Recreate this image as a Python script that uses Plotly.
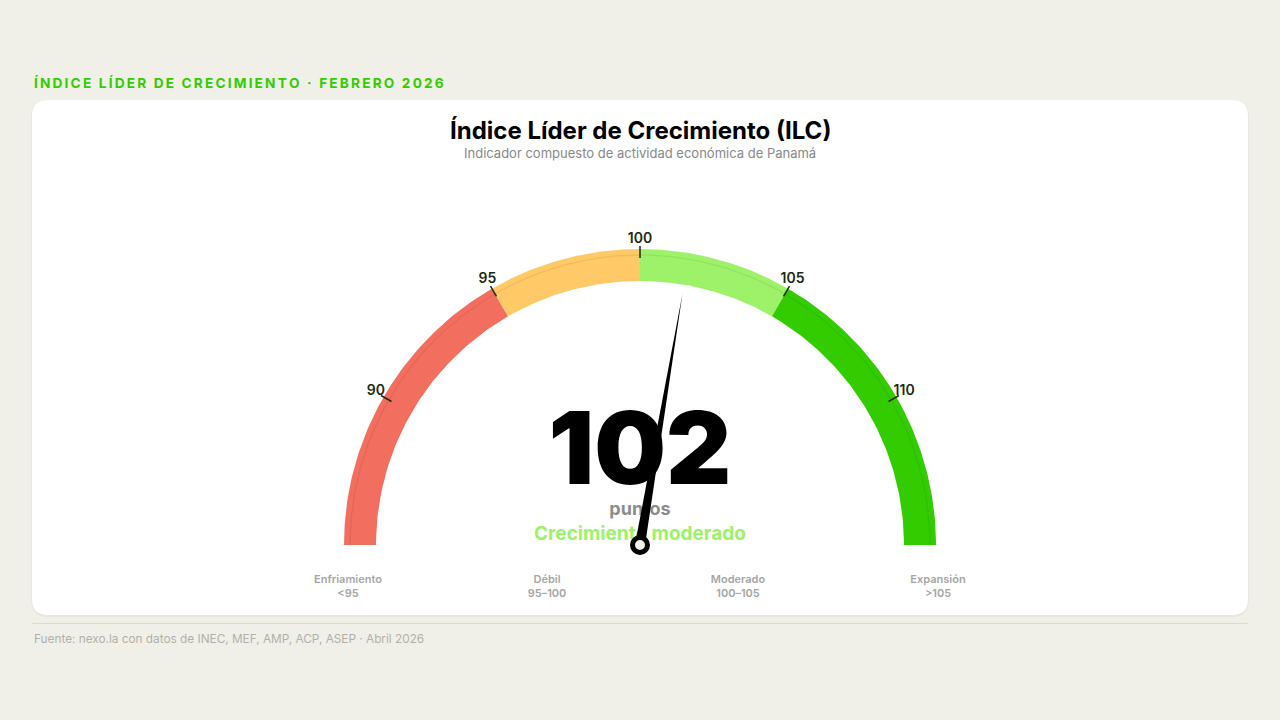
import numpy as np
import plotly.graph_objects as go

# gauge data
ilc_value = 101.6
gauge_min, gauge_max = 85, 115
band_edges = [85, 95, 100, 105, 115]
band_colors = ["#f26e5f", "#fec966", "#9df26a", "#33cc00"]
tick_vals = [90, 95, 100, 105, 110]
status_text = "Crecimiento moderado"
status_color = "#9df26a"

# bottom legend
legend_names = ["Enfriamiento", "Débil", "Moderado", "Expansión"]
legend_ranges = ["<95", "95–100", "100–105", ">105"]

header = "ÍNDICE LÍDER DE CRECIMIENTO · FEBRERO 2026"
title = "Índice Líder de Crecimiento (ILC)"
subtitle = "Indicador compuesto de actividad económica de Panamá"
source = "Fuente: nexo.la con datos de INEC, MEF, AMP, ACP, ASEP · Abril 2026"

W, H = 1280, 720
BG = "#f0f0e8"
FONT = "Inter"
CX, CY = 640, H - 545
R_OUT, R_IN = 296, 264


def ang(v):
    return np.pi - (np.asarray(v, dtype=float) - gauge_min) / (gauge_max - gauge_min) * np.pi


def arc(v0, v1, r, n=80):
    a = ang(np.linspace(v0, v1, n))
    return CX + r * np.cos(a), CY + r * np.sin(a)


def rounded_rect(x0, y0, x1, y1, r):
    return (f"M{x0 + r},{y0} L{x1 - r},{y0} Q{x1},{y0} {x1},{y0 + r} "
            f"L{x1},{y1 - r} Q{x1},{y1} {x1 - r},{y1} L{x0 + r},{y1} "
            f"Q{x0},{y1} {x0},{y1 - r} L{x0},{y0 + r} Q{x0},{y0} {x0 + r},{y0} Z")


fig = go.Figure()

# colored bands
for v0, v1, col in zip(band_edges[:-1], band_edges[1:], band_colors):
    xo, yo = arc(v0, v1, R_OUT)
    xi, yi = arc(v1, v0, R_IN)
    fig.add_trace(go.Scatter(x=np.r_[xo, xi, xo[0]], y=np.r_[yo, yi, yo[0]], mode="lines",
                             fill="toself", fillcolor=col, line=dict(width=0),
                             hoverinfo="skip", showlegend=False))

# faint inner track line
xl, yl = arc(gauge_min, gauge_max, R_OUT - 6, 200)
fig.add_trace(go.Scatter(x=xl, y=yl, mode="lines", line=dict(color="rgba(0,0,0,0.06)", width=1.5),
                         hoverinfo="skip", showlegend=False))

# ticks + labels
for v in tick_vals:
    a = ang(v)
    fig.add_trace(go.Scatter(x=[CX + 287 * np.cos(a), CX + 299 * np.cos(a)],
                             y=[CY + 287 * np.sin(a), CY + 299 * np.sin(a)],
                             mode="lines", line=dict(color="#1c2a12", width=1.5),
                             hoverinfo="skip", showlegend=False))
ta = ang(tick_vals)
fig.add_trace(go.Scatter(x=CX + 305 * np.cos(ta), y=CY + 305 * np.sin(ta) + 1, mode="text",
                         text=[str(v) for v in tick_vals],
                         textfont=dict(family=FONT, size=14, color="#1c2a12", weight=600),
                         hoverinfo="skip", showlegend=False))

# central texts (drawn below the needle)
fig.add_trace(go.Scatter(x=[CX], y=[H - 459], mode="text", text=[f"{round(ilc_value)}"],
                         textfont=dict(family=FONT, size=101, color="#000000", weight=900),
                         hoverinfo="skip", showlegend=False))
fig.add_trace(go.Scatter(x=[CX], y=[H - 510], mode="text", text=["puntos"],
                         textfont=dict(family=FONT, size=18, color="#8c8c8c", weight=700),
                         hoverinfo="skip", showlegend=False))
fig.add_trace(go.Scatter(x=[CX], y=[H - 535], mode="text", text=[status_text],
                         textfont=dict(family=FONT, size=19, color=status_color, weight=700),
                         hoverinfo="skip", showlegend=False))

# needle
a = ang(ilc_value)
tip = (CX + 255 * np.cos(a), CY + 255 * np.sin(a))
px, py = -np.sin(a) * 5, np.cos(a) * 5
fig.add_trace(go.Scatter(x=[CX + px, tip[0], CX - px, CX + px], y=[CY + py, tip[1], CY - py, CY + py],
                         mode="lines", fill="toself", fillcolor="#000000", line=dict(width=0),
                         hoverinfo="skip", showlegend=False))
fig.add_trace(go.Scatter(x=[CX], y=[CY], mode="markers",
                         marker=dict(size=15, color=BG, line=dict(color="#000000", width=5)),
                         hoverinfo="skip", showlegend=False))

# bottom legend
legend_x = [348, 547, 738, 938]
fig.add_trace(go.Scatter(x=legend_x, y=[H - 587] * 4, mode="text",
                         text=[f"{n}<br>{r}" for n, r in zip(legend_names, legend_ranges)],
                         textfont=dict(family=FONT, size=11, color="#a6a6a6", weight=600),
                         hoverinfo="skip", showlegend=False))

shapes = [
    dict(type="path", path=rounded_rect(31, H - 617, 1249, H - 100, 17), xref="x", yref="y",
         fillcolor="rgba(0,0,0,0.035)", line=dict(width=0), layer="below"),
    dict(type="path", path=rounded_rect(32, H - 615, 1248, H - 100, 16), xref="x", yref="y",
         fillcolor="#ffffff", line=dict(width=0), layer="below"),
    dict(type="line", x0=32, x1=1248, y0=H - 623.5, y1=H - 623.5, xref="x", yref="y",
         line=dict(color="#e2dcbc", width=1), layer="below"),
]

annotations = [
    dict(x=32, y=H - 83, text="\u2009".join(header), xanchor="left", yanchor="middle",
         showarrow=False, font=dict(family=FONT, size=13.7, color="#33cc00", weight=700)),
    dict(x=640, y=H - 130, text=title, xanchor="center", yanchor="middle", showarrow=False,
         font=dict(family=FONT, size=24, color="#000000", weight=700)),
    dict(x=640, y=H - 153, text=subtitle, xanchor="center", yanchor="middle", showarrow=False,
         font=dict(family=FONT, size=13, color="#888888")),
    dict(x=32, y=H - 639, text=source, xanchor="left", yanchor="middle", showarrow=False,
         font=dict(family=FONT, size=11.8, color="#b0b0a8")),
]

fig.update_layout(
    width=W, height=H,
    margin=dict(l=0, r=0, t=0, b=0),
    paper_bgcolor=BG, plot_bgcolor=BG,
    xaxis=dict(range=[0, W], visible=False, fixedrange=True),
    yaxis=dict(range=[0, H], visible=False, fixedrange=True),
    shapes=shapes, annotations=annotations,
    showlegend=False,
)

fig.write_html("out.html", config={"displayModeBar": False},
               post_script="document.body.style.margin='0';document.body.style.background='%s';" % BG)
